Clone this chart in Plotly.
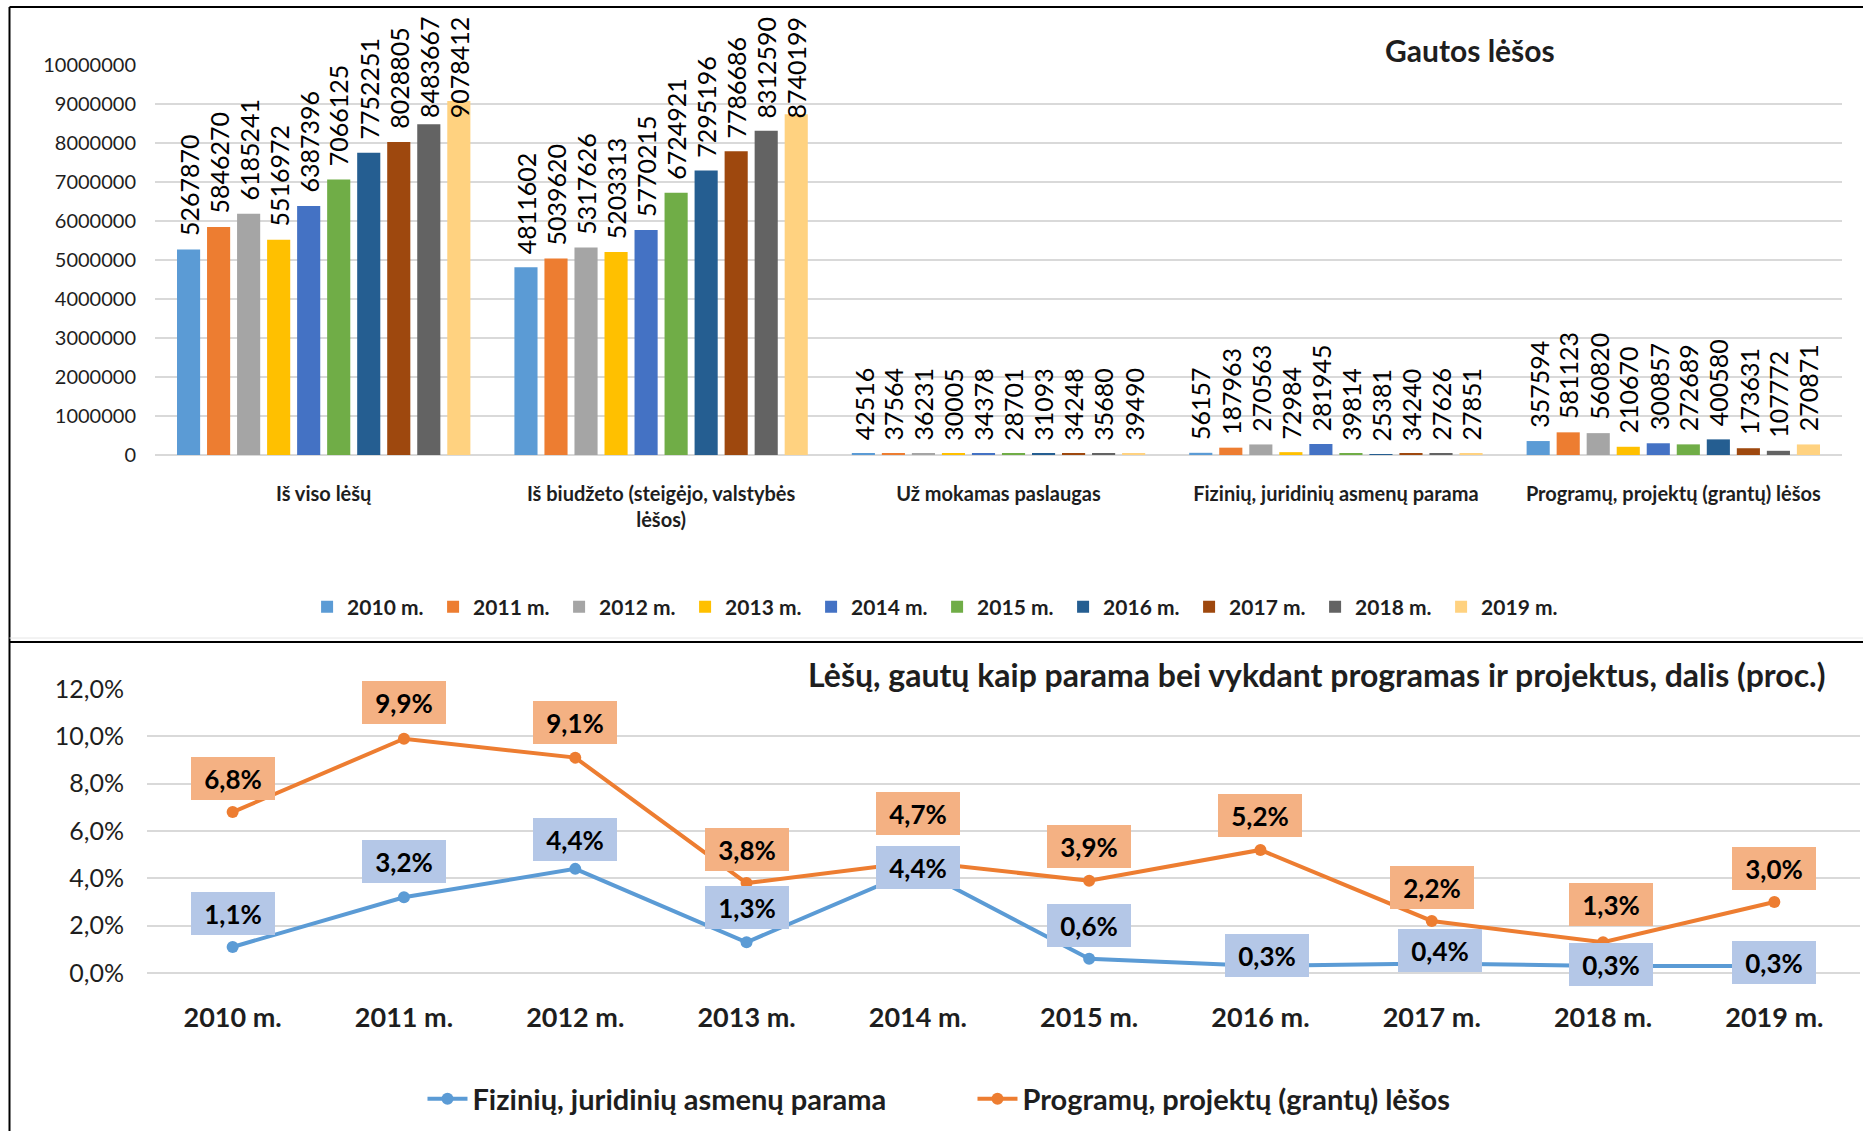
import plotly.graph_objects as go

W, H = 1863, 1131

# ---- Gautos lėšos (received funds), by source and year ----
sources = [
    "Iš viso lėšų",
    "Iš biudžeto (steigėjo, valstybės<br>lėšos)",
    "Už mokamas paslaugas",
    "Fizinių, juridinių asmenų parama",
    "Programų, projektų (grantų) lėšos",
]
years = ["2010 m.", "2011 m.", "2012 m.", "2013 m.", "2014 m.",
         "2015 m.", "2016 m.", "2017 m.", "2018 m.", "2019 m."]

total = [5267870, 5846270, 6185241, 5516972, 6387396,
         7066125, 7752251, 8028805, 8483667, 9078412]
budget = [4811602, 5039620, 5317626, 5203313, 5770215,
          6724921, 7295196, 7786686, 8312590, 8740199]
paid_services = [42516, 37564, 36231, 30005, 34378,
                 28701, 31093, 34248, 35680, 39490]
donations = [56157, 187963, 270563, 72984, 281945,
             39814, 25381, 34240, 27626, 27851]
grants = [357594, 581123, 560820, 210670, 300857,
          272689, 400580, 173631, 107772, 270871]

# ---- Share of donations and grants in total funds, % ----
share_donations = [1.1, 3.2, 4.4, 1.3, 4.4, 0.6, 0.3, 0.4, 0.3, 0.3]
share_grants = [6.8, 9.9, 9.1, 3.8, 4.7, 3.9, 5.2, 2.2, 1.3, 3.0]

year_colors = ["#5B9BD5", "#ED7D31", "#A5A5A5", "#FFC000", "#4472C4",
               "#70AD47", "#255E91", "#9E480E", "#636363", "#FFD280"]
BLUE, ORANGE = "#5B9BD5", "#ED7D31"
BLUE_BOX, ORANGE_BOX = "#B4C7E7", "#F4B183"
TXT = "#1E1E1E"
GRID = "#D9D9D9"
FONT = "Lato"

# pixel offsets of the percentage label boxes relative to their points
grant_dy = [34, 36, 35, 34, 48, 34, 34, 33, 38, 34]
grant_dx = [0, 0, 0, 0, 0, 0, 0, 0, 8, 0]
don_dy = [33, 36, 29, 35, 1, 33, 10, 13, 1, 3]
don_dx = [0, 0, 0, 0, 0, 0, 7, 8, 8, 0]


def px(x):
    return x / W


def py(y):
    return 1 - y / H


# bar chart geometry
X1_LEFT, X1_RIGHT = 155, 1842
BARGAP, BARGROUPGAP = 0.11, 0.23
n_years = len(years)
slot_px = (X1_RIGHT - X1_LEFT) / len(sources) * (1 - BARGAP) / n_years
# value labels above tall bars stop below the chart's top edge
LABEL_CAP = 8300000

fig = go.Figure()

annotations = []
for i, yr in enumerate(years):
    vals = [total[i], budget[i], paid_services[i], donations[i], grants[i]]
    fig.add_trace(go.Bar(
        x=sources, y=vals, name=yr,
        marker=dict(color=year_colors[i], line=dict(width=0)),
        xaxis="x", yaxis="y", legend="legend", hoverinfo="skip",
    ))
    for src, v in zip(sources, vals):
        annotations.append(dict(
            x=src, y=min(v, LABEL_CAP), xref="x", yref="y",
            text=str(v), textangle=-90, showarrow=False,
            xanchor="center", yanchor="bottom",
            xshift=(i - (n_years - 1) / 2) * slot_px, yshift=11,
            font=dict(family=FONT, size=25, color="#000000"),
        ))

line_series = [
    ("Fizinių, juridinių asmenų parama", share_donations, BLUE),
    ("Programų, projektų (grantų) lėšos", share_grants, ORANGE),
]
for name, vals, col in line_series:
    fig.add_trace(go.Scatter(
        x=years, y=vals, name=name, mode="lines+markers",
        line=dict(color=col, width=4),
        marker=dict(color=col, size=12),
        cliponaxis=False, xaxis="x2", yaxis="y2", legend="legend2",
        hoverinfo="skip",
    ))

for vals, dys, dxs, box in [(share_grants, grant_dy, grant_dx, ORANGE_BOX),
                            (share_donations, don_dy, don_dx, BLUE_BOX)]:
    for yr, v, dy, dx in zip(years, vals, dys, dxs):
        annotations.append(dict(
            x=yr, y=v, xref="x2", yref="y2",
            text=f"{v:.1f}".replace(".", ",") + "%",
            showarrow=False, yshift=dy, xshift=dx,
            bgcolor=box, borderpad=0, borderwidth=0, width=84, height=43,
            font=dict(family=FONT, size=26, color="#000000", weight="bold"),
        ))

annotations.append(dict(
    text="Gautos lėšos", x=px(1470), y=py(50), xref="paper", yref="paper",
    showarrow=False, xanchor="center", yanchor="middle",
    font=dict(family=FONT, size=30, color=TXT, weight="bold"),
))
annotations.append(dict(
    text="Lėšų, gautų kaip parama bei vykdant programas ir projektus, dalis (proc.)",
    x=px(1828), y=py(674), xref="paper", yref="paper",
    showarrow=False, xanchor="right", yanchor="middle",
    font=dict(family=FONT, size=32, color=TXT, weight="bold"),
))

border = dict(type="line", xref="paper", yref="paper",
              line=dict(color="#000000", width=2))
shapes = [
    dict(border, x0=px(9.5), x1=1, y0=py(7), y1=py(7)),
    dict(border, x0=px(9.5), x1=px(9.5), y0=py(7), y1=0),
    dict(border, x0=px(9.5), x1=1, y0=py(642), y1=py(642)),
    dict(type="line", xref="paper", yref="paper", x0=px(9.5), x1=1,
         y0=py(638), y1=py(638), line=dict(color="#E6E6E6", width=1)),
]

fig.update_layout(
    width=W, height=H, autosize=False,
    margin=dict(l=0, r=0, t=0, b=0, autoexpand=False),
    paper_bgcolor="white", plot_bgcolor="white",
    separators=", ",
    barmode="group", bargap=BARGAP, bargroupgap=BARGROUPGAP,
    showlegend=True,
    font=dict(family=FONT, color=TXT),
    xaxis=dict(
        domain=[px(X1_LEFT), px(X1_RIGHT)], anchor="y", automargin=False,
        range=[-0.5, len(sources) - 0.5],
        showgrid=False, showline=False, ticks="", tickangle=0,
        ticklabelstandoff=25,
        tickfont=dict(family=FONT, size=20, color=TXT, weight="bold"),
    ),
    yaxis=dict(
        domain=[py(455), py(65)], anchor="x", automargin=False,
        range=[0, 10000000], dtick=1000000, tickformat="d",
        showgrid=True, gridcolor=GRID, gridwidth=1.5,
        zeroline=True, zerolinecolor=GRID, zerolinewidth=1.5,
        showline=False, ticks="", ticklabelstandoff=18,
        tickfont=dict(family=FONT, size=20, color=TXT),
    ),
    xaxis2=dict(
        domain=[px(147), px(1860)], anchor="y2", automargin=False,
        range=[-0.5, n_years - 0.5],
        showgrid=False, showline=False, ticks="", tickangle=0,
        ticklabelstandoff=26,
        tickfont=dict(family=FONT, size=27, color=TXT, weight="bold"),
    ),
    yaxis2=dict(
        domain=[py(973), py(689)], anchor="x2", automargin=False,
        range=[0, 12], dtick=2, tickformat=".1f", ticksuffix="%",
        showgrid=True, gridcolor=GRID, gridwidth=1.5,
        zeroline=True, zerolinecolor=GRID, zerolinewidth=1.5,
        showline=False, ticks="", ticklabelstandoff=22,
        tickfont=dict(family=FONT, size=25, color=TXT),
    ),
    legend=dict(
        orientation="h", x=0.503, xanchor="center", y=py(607), yanchor="middle",
        font=dict(family=FONT, size=21, color=TXT, weight="bold"),
        entrywidth=81, itemwidth=30, bgcolor="rgba(0,0,0,0)",
    ),
    legend2=dict(
        orientation="h", x=0.522, xanchor="center", y=py(1099), yanchor="middle",
        font=dict(family=FONT, size=29, color=TXT, weight="bold"),
        entrywidth=495, itemwidth=40, bgcolor="rgba(0,0,0,0)",
    ),
    annotations=annotations,
    shapes=shapes,
)

fig.write_html("out.html")
